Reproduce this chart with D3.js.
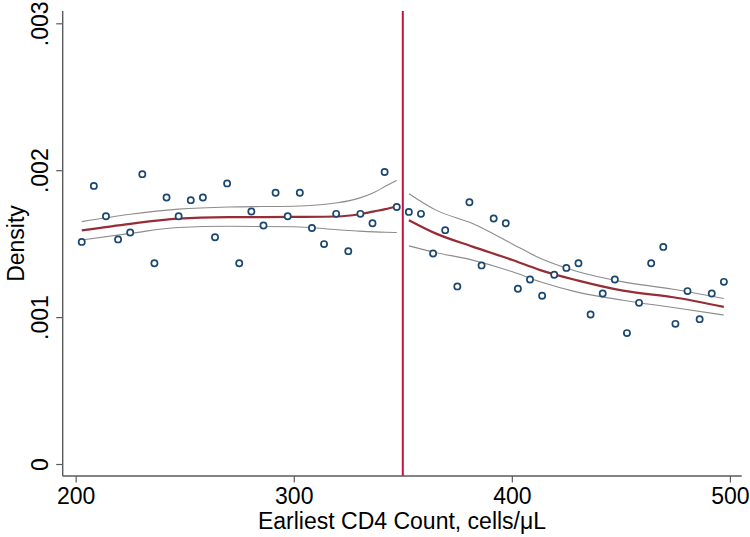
<!DOCTYPE html>
<html><head><meta charset="utf-8">
<script src="https://cdn.jsdelivr.net/npm/d3@7"></script>
<style>body{margin:0;background:#fff}svg{display:block}text{font-family:"Liberation Sans",Arial,Helvetica,sans-serif;fill:#000}</style>
</head><body><div id="chart"></div>
<script>
// Bin midpoints (27 bins each side of the 350 cutoff)
const leftBinCount = 27, rightBinCount = 27;
const leftDensity = [1.512,1.893,1.687,1.529,1.576,1.973,1.367,1.814,1.687,1.796,1.814,1.544,1.910,1.367,1.719,1.624,1.846,1.687,1.846,1.607,1.497,1.703,1.449,1.703,1.639,1.988,1.750];
const rightDensity = [1.716,1.703,1.433,1.592,1.209,1.782,1.352,1.671,1.639,1.193,1.256,1.145,1.288,1.335,1.367,1.018,1.161,1.256,0.891,1.097,1.367,1.478,0.954,1.177,0.986,1.161,1.240];
const cutoff = 350;
// fitted local polynomial and CI (x in cells/µL, density ×1000)
const leftFitX = [202.8,225,247,270,300,320,330,337,342,347.2];
const leftFit  = [1.590,1.635,1.670,1.680,1.682,1.685,1.700,1.720,1.735,1.755];
const leftHi   = [1.650,1.700,1.735,1.750,1.755,1.778,1.810,1.850,1.890,1.930];
const leftLo   = [1.525,1.570,1.610,1.618,1.615,1.595,1.585,1.580,1.578,1.576];
const rightFitX = [352.8,365,382,400,413,430,451,474,497.2];
const rightFit  = [1.660,1.570,1.480,1.390,1.320,1.250,1.180,1.135,1.070];
const rightHi   = [1.840,1.730,1.637,1.500,1.400,1.310,1.240,1.190,1.127];
const rightLo   = [1.485,1.440,1.388,1.310,1.240,1.170,1.115,1.065,1.014];
const xTicks = [200,300,400,500];
const yTicks = [0,0.001,0.002,0.003];
const yTickLabels = ["0",".001",".002",".003"];

const W=750,H=537;
const svg=d3.select("#chart").append("svg").attr("width",W).attr("height",H);
const x=d3.scaleLinear().domain([194.05,505.4]).range([62.7,741.7]);
const y=d3.scaleLinear().domain([-0.0000816,0.0030837]).range([476,11]);

const binW=(cutoff-200)/leftBinCount;
const leftPts=leftDensity.map((d,i)=>({x:200+(i+0.5)*binW,y:d/1000}));
const rightPts=rightDensity.map((d,i)=>({x:cutoff+(i+0.5)*(500-cutoff)/rightBinCount,y:d/1000}));

const line=d3.line().x(d=>x(d[0])).y(d=>y(d[1]/1000)).curve(d3.curveMonotoneX);
function draw(xs,vals,color,w){
  svg.append("path").datum(xs.map((v,i)=>[v,vals[i]])).attr("d",line)
    .attr("fill","none").attr("stroke",color).attr("stroke-width",w);
}
draw(leftFitX,leftHi,"#8c8c8c",1.1);
draw(leftFitX,leftLo,"#8c8c8c",1.1);
draw(rightFitX,rightHi,"#8c8c8c",1.1);
draw(rightFitX,rightLo,"#8c8c8c",1.1);
draw(leftFitX,leftFit,"#962d36",2.2);
draw(rightFitX,rightFit,"#962d36",2.2);

svg.append("line").attr("x1",x(cutoff)).attr("x2",x(cutoff)).attr("y1",11).attr("y2",476)
  .attr("stroke","#c4123a").attr("stroke-width",2);

svg.selectAll("circle.pt").data(leftPts.concat(rightPts)).enter().append("circle")
  .attr("class","pt").attr("cx",d=>x(d.x)).attr("cy",d=>y(d.y)).attr("r",3.1)
  .attr("fill","#fff").attr("stroke","#1a476f").attr("stroke-width",1.7);

// axes
const FS=23;
const ax=d3.axisBottom(x).tickValues(xTicks).tickSize(6.5).tickPadding(5).tickFormat(d3.format("d"));
const gx=svg.append("g").attr("transform","translate(0,476)").call(ax);
gx.select(".domain").attr("stroke","#5a5a5a").attr("stroke-width",1.4).attr("d","M62.7,0H741.7");
gx.selectAll(".tick line").attr("stroke","#5a5a5a").attr("stroke-width",1.2);
gx.selectAll(".tick text").attr("font-size",FS).attr("fill","#000").attr("font-family","Liberation Sans, Arial, sans-serif");

const ay=d3.axisLeft(y).tickValues(yTicks).tickSize(6.5).tickFormat((d,i)=>yTickLabels[i]);
const gy=svg.append("g").attr("transform","translate(62.7,0)").call(ay);
gy.select(".domain").attr("stroke","#5a5a5a").attr("stroke-width",1.4).attr("d","M0,11V476");
gy.selectAll(".tick line").attr("stroke","#5a5a5a").attr("stroke-width",1.2);
gy.selectAll(".tick text").attr("font-size",FS).attr("fill","#000")
  .attr("font-family","Liberation Sans, Arial, sans-serif")
  .attr("x",null).attr("dy",null).attr("text-anchor","middle")
  .attr("transform","translate(-14.5,0) rotate(-90)");

svg.append("text").attr("x",402).attr("y",529).attr("text-anchor","middle").attr("font-size",FS)
  .text("Earliest CD4 Count, cells/μL");
svg.append("text").attr("transform","translate(24,243.5) rotate(-90)").attr("text-anchor","middle").attr("font-size",FS)
  .text("Density");
</script></body></html>
